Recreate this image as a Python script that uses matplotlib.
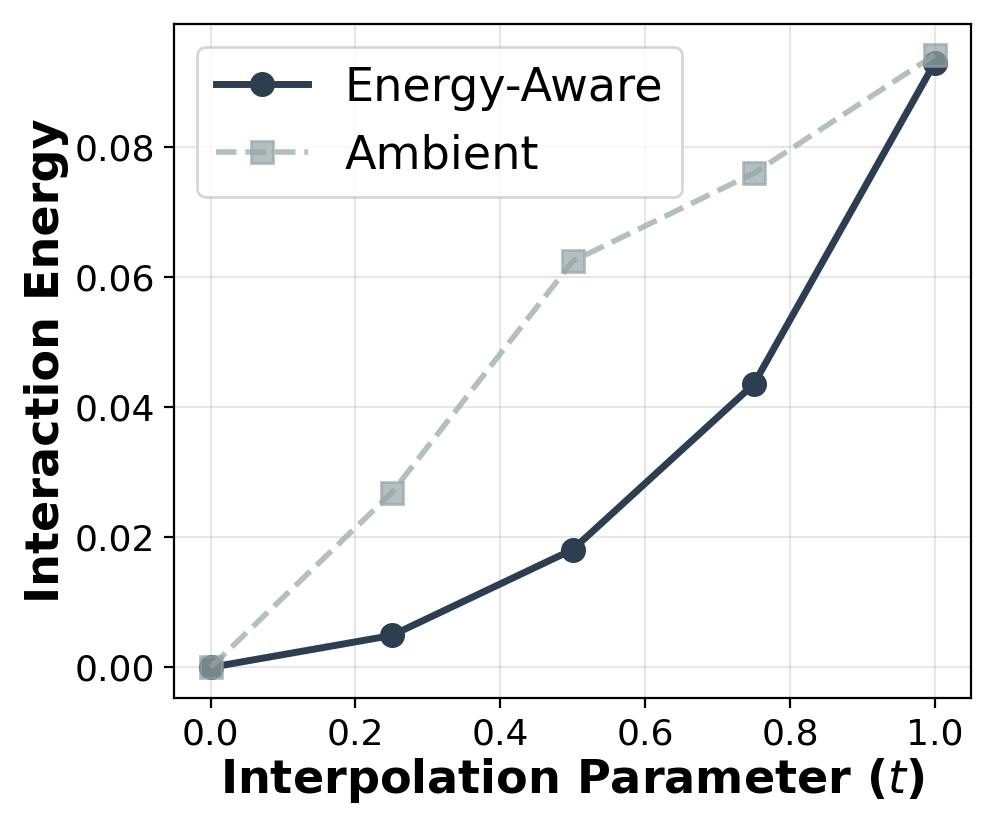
import matplotlib
matplotlib.use("Agg")
import matplotlib.pyplot as plt

t = [0.0, 0.25, 0.5, 0.75, 1.0]
energy_aware = [0.0, 0.0049, 0.0181, 0.0435, 0.0929]
ambient = [0.0, 0.0268, 0.0624, 0.0759, 0.0941]

fig, ax = plt.subplots(figsize=(4.98, 4.15), dpi=200)
ax.plot(t, energy_aware, '-o', color='#2c3e50', lw=2.5, markersize=8,
        label='Energy-Aware')
ax.plot(t, ambient, '--s', color='#95a5a6', lw=2.0, markersize=8,
        alpha=0.7, label='Ambient')
ax.set_xlabel('Interpolation Parameter ($t$)', fontsize=16.6, fontweight='bold',
              labelpad=1.5)
ax.set_ylabel('Interaction Energy', fontsize=16.6, fontweight='bold',
              labelpad=1.8)
ax.tick_params(labelsize=13)
ax.grid(True, alpha=0.3)
ax.legend(fontsize=16.6, loc='upper left')
fig.subplots_adjust(left=0.175, right=0.975, top=0.971, bottom=0.159)
plt.savefig('out.png', dpi=200)
